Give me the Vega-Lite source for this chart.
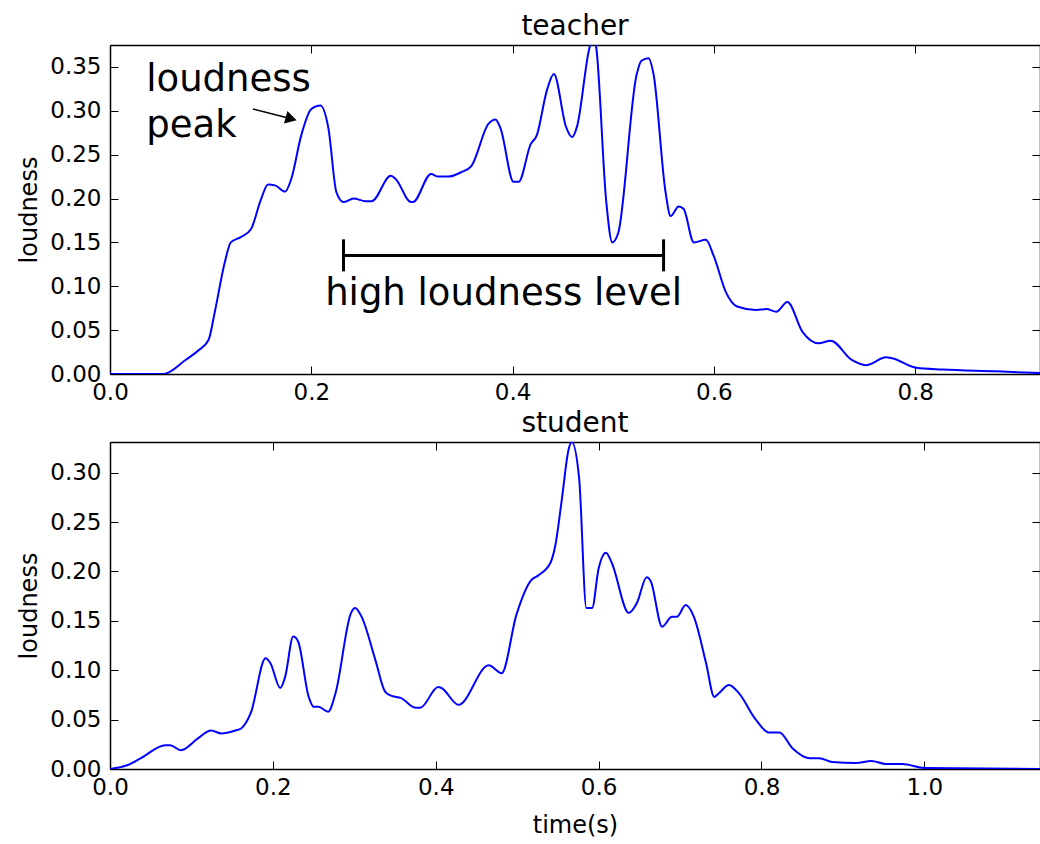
{
  "$schema": "https://vega.github.io/schema/vega-lite/v6.json",
  "autosize": {"type": "pad"},
  "padding": {"left": 17, "top": 13, "right": 0, "bottom": 5},
  "background": "white",
  "config": {
    "font": "DejaVu Sans",
    "view": {"stroke": null},
    "axis": {
      "grid": false,
      "domainColor": "black",
      "domainWidth": 1.5,
      "tickColor": "black",
      "tickWidth": 1,
      "tickSize": -8,
      "labelFlush": false,
      "labelColor": "black",
      "labelFont": "DejaVu Sans",
      "labelFontSize": 23,
      "titleFont": "DejaVu Sans",
      "titleFontSize": 24,
      "titleFontWeight": "normal",
      "titleColor": "black"
    },
    "title": {"font": "DejaVu Sans", "fontSize": 28, "fontWeight": "normal", "color": "black", "offset": -5}
  },
  "datasets": {
    "teacher": [
      {"t": 0.000, "v": 0.000}, {"t": 0.053, "v": 0.000}, {"t": 0.075, "v": 0.016}, {"t": 0.088, "v": 0.027},
      {"t": 0.098, "v": 0.039}, {"t": 0.104, "v": 0.070}, {"t": 0.114, "v": 0.127}, {"t": 0.120, "v": 0.150},
      {"t": 0.130, "v": 0.156}, {"t": 0.140, "v": 0.165}, {"t": 0.150, "v": 0.199}, {"t": 0.157, "v": 0.216},
      {"t": 0.164, "v": 0.215}, {"t": 0.174, "v": 0.208}, {"t": 0.180, "v": 0.222}, {"t": 0.190, "v": 0.272},
      {"t": 0.200, "v": 0.302}, {"t": 0.209, "v": 0.306}, {"t": 0.217, "v": 0.280}, {"t": 0.225, "v": 0.207},
      {"t": 0.232, "v": 0.196}, {"t": 0.242, "v": 0.200}, {"t": 0.254, "v": 0.197}, {"t": 0.260, "v": 0.197},
      {"t": 0.279, "v": 0.226}, {"t": 0.284, "v": 0.222}, {"t": 0.299, "v": 0.196}, {"t": 0.301, "v": 0.196},
      {"t": 0.319, "v": 0.228}, {"t": 0.326, "v": 0.225}, {"t": 0.336, "v": 0.225}, {"t": 0.349, "v": 0.230},
      {"t": 0.359, "v": 0.237}, {"t": 0.376, "v": 0.285}, {"t": 0.383, "v": 0.290}, {"t": 0.388, "v": 0.280},
      {"t": 0.401, "v": 0.219}, {"t": 0.406, "v": 0.219}, {"t": 0.418, "v": 0.262}, {"t": 0.424, "v": 0.272},
      {"t": 0.434, "v": 0.323}, {"t": 0.441, "v": 0.342}, {"t": 0.453, "v": 0.282}, {"t": 0.459, "v": 0.270},
      {"t": 0.464, "v": 0.282}, {"t": 0.476, "v": 0.370}, {"t": 0.480, "v": 0.385}, {"t": 0.483, "v": 0.373},
      {"t": 0.493, "v": 0.197}, {"t": 0.499, "v": 0.150}, {"t": 0.505, "v": 0.161}, {"t": 0.523, "v": 0.340},
      {"t": 0.528, "v": 0.357}, {"t": 0.535, "v": 0.360}, {"t": 0.540, "v": 0.342}, {"t": 0.552, "v": 0.207},
      {"t": 0.557, "v": 0.180}, {"t": 0.565, "v": 0.191}, {"t": 0.570, "v": 0.188}, {"t": 0.580, "v": 0.150},
      {"t": 0.592, "v": 0.153}, {"t": 0.600, "v": 0.134}, {"t": 0.612, "v": 0.093}, {"t": 0.623, "v": 0.077},
      {"t": 0.642, "v": 0.073}, {"t": 0.652, "v": 0.074}, {"t": 0.662, "v": 0.071}, {"t": 0.673, "v": 0.082},
      {"t": 0.688, "v": 0.048}, {"t": 0.704, "v": 0.035}, {"t": 0.716, "v": 0.038}, {"t": 0.737, "v": 0.016},
      {"t": 0.751, "v": 0.010}, {"t": 0.771, "v": 0.019}, {"t": 0.777, "v": 0.018}, {"t": 0.801, "v": 0.007},
      {"t": 0.827, "v": 0.005}, {"t": 0.881, "v": 0.003}, {"t": 0.924, "v": 0.001}
    ],
    "student": [
      {"t": 0.000, "v": 0.000}, {"t": 0.022, "v": 0.004}, {"t": 0.038, "v": 0.011}, {"t": 0.068, "v": 0.024},
      {"t": 0.074, "v": 0.024}, {"t": 0.087, "v": 0.019}, {"t": 0.108, "v": 0.031}, {"t": 0.124, "v": 0.039},
      {"t": 0.137, "v": 0.036}, {"t": 0.154, "v": 0.039}, {"t": 0.161, "v": 0.041}, {"t": 0.173, "v": 0.057},
      {"t": 0.191, "v": 0.112}, {"t": 0.197, "v": 0.107}, {"t": 0.209, "v": 0.082}, {"t": 0.215, "v": 0.093},
      {"t": 0.225, "v": 0.134}, {"t": 0.231, "v": 0.129}, {"t": 0.244, "v": 0.073}, {"t": 0.250, "v": 0.063},
      {"t": 0.256, "v": 0.063}, {"t": 0.268, "v": 0.058}, {"t": 0.277, "v": 0.077}, {"t": 0.296, "v": 0.158},
      {"t": 0.301, "v": 0.163}, {"t": 0.309, "v": 0.154}, {"t": 0.326, "v": 0.110}, {"t": 0.338, "v": 0.078},
      {"t": 0.346, "v": 0.074}, {"t": 0.357, "v": 0.072}, {"t": 0.375, "v": 0.062}, {"t": 0.381, "v": 0.062},
      {"t": 0.403, "v": 0.083}, {"t": 0.407, "v": 0.082}, {"t": 0.428, "v": 0.065}, {"t": 0.465, "v": 0.105},
      {"t": 0.481, "v": 0.097}, {"t": 0.499, "v": 0.156}, {"t": 0.517, "v": 0.191}, {"t": 0.526, "v": 0.196},
      {"t": 0.541, "v": 0.209}, {"t": 0.547, "v": 0.227}, {"t": 0.555, "v": 0.274}, {"t": 0.563, "v": 0.323},
      {"t": 0.567, "v": 0.331}, {"t": 0.576, "v": 0.295}, {"t": 0.585, "v": 0.163}, {"t": 0.592, "v": 0.163},
      {"t": 0.600, "v": 0.203}, {"t": 0.609, "v": 0.219}, {"t": 0.616, "v": 0.209}, {"t": 0.637, "v": 0.158},
      {"t": 0.647, "v": 0.168}, {"t": 0.659, "v": 0.194}, {"t": 0.664, "v": 0.190}, {"t": 0.678, "v": 0.144},
      {"t": 0.690, "v": 0.154}, {"t": 0.696, "v": 0.154}, {"t": 0.707, "v": 0.166}, {"t": 0.717, "v": 0.154},
      {"t": 0.732, "v": 0.107}, {"t": 0.742, "v": 0.073}, {"t": 0.748, "v": 0.077}, {"t": 0.760, "v": 0.085},
      {"t": 0.772, "v": 0.077}, {"t": 0.793, "v": 0.050}, {"t": 0.809, "v": 0.037}, {"t": 0.822, "v": 0.037},
      {"t": 0.838, "v": 0.021}, {"t": 0.859, "v": 0.011}, {"t": 0.871, "v": 0.011}, {"t": 0.887, "v": 0.007},
      {"t": 0.916, "v": 0.006}, {"t": 0.935, "v": 0.008}, {"t": 0.953, "v": 0.005}, {"t": 0.973, "v": 0.005},
      {"t": 1.000, "v": 0.001}, {"t": 1.142, "v": 0.000}
    ],
    "bars": [
      {"x1": 0.232, "x2": 0.550, "y1": 0.135, "y2": 0.135},
      {"x1": 0.232, "x2": 0.232, "y1": 0.117, "y2": 0.1535},
      {"x1": 0.550, "x2": 0.550, "y1": 0.117, "y2": 0.1535}
    ],
    "arrow": [{"x1": 0.142, "y1": 0.302, "x2": 0.180, "y2": 0.291}],
    "arrowhead": [{"x": 0.180, "y": 0.291}],
    "peaklabel": [
      {"x": 0.036, "y": 0.323, "text": "loudness"},
      {"x": 0.036, "y": 0.270, "text": "peak"}
    ],
    "levellabel": [{"x": 0.391, "y": 0.079, "text": "high loudness level"}]
  },
  "bounds": "flush",
  "spacing": 68,
  "vconcat": [
    {
      "width": 930,
      "height": 329,
      "title": {"text": "teacher"},
      "resolve": {"axis": {"x": "independent", "y": "independent"}},
      "layer": [
        {
          "data": {"name": "teacher"},
          "mark": {"type": "line", "color": "#0000ff", "strokeWidth": 2, "clip": true, "interpolate": "monotone"},
          "encoding": {
            "x": {"field": "t", "type": "quantitative", "scale": {"domain": [0, 0.924], "nice": false, "zero": false},
                  "axis": {"title": null, "values": [0, 0.2, 0.4, 0.6, 0.8], "format": ".1f", "labelPadding": 15}},
            "y": {"field": "v", "type": "quantitative", "scale": {"domain": [0, 0.375], "nice": false, "zero": false},
                  "axis": {"title": "loudness", "values": [0, 0.05, 0.1, 0.15, 0.2, 0.25, 0.3, 0.35], "format": ".2f", "labelPadding": 17, "titlePadding": 8}}
          }
        },
        {
          "data": {"name": "teacher"},
          "mark": {"type": "line", "opacity": 0},
          "encoding": {
            "x": {"field": "t", "type": "quantitative", "scale": {"domain": [0, 0.924], "nice": false, "zero": false},
                  "axis": {"orient": "top", "title": null, "labels": false, "values": [0, 0.2, 0.4, 0.6, 0.8]}},
            "y": {"field": "v", "type": "quantitative", "scale": {"domain": [0, 0.375], "nice": false, "zero": false},
                  "axis": {"orient": "right", "title": null, "labels": false, "values": [0, 0.05, 0.1, 0.15, 0.2, 0.25, 0.3, 0.35]}}
          }
        },
        {
          "data": {"name": "bars"},
          "mark": {"type": "rule", "color": "black", "strokeWidth": 3},
          "encoding": {
            "x": {"field": "x1", "type": "quantitative", "scale": {"domain": [0, 0.924], "nice": false, "zero": false}, "axis": null},
            "x2": {"field": "x2"},
            "y": {"field": "y1", "type": "quantitative", "scale": {"domain": [0, 0.375], "nice": false, "zero": false}, "axis": null},
            "y2": {"field": "y2"}
          }
        },
        {
          "data": {"name": "arrow"},
          "mark": {"type": "rule", "color": "black", "strokeWidth": 1.5},
          "encoding": {
            "x": {"field": "x1", "type": "quantitative", "scale": {"domain": [0, 0.924], "nice": false, "zero": false}, "axis": null},
            "x2": {"field": "x2"},
            "y": {"field": "y1", "type": "quantitative", "scale": {"domain": [0, 0.375], "nice": false, "zero": false}, "axis": null},
            "y2": {"field": "y2"}
          }
        },
        {
          "data": {"name": "arrowhead"},
          "mark": {"type": "point", "shape": "triangle-right", "filled": true, "color": "black", "size": 170, "angle": 15, "opacity": 1},
          "encoding": {
            "x": {"field": "x", "type": "quantitative", "scale": {"domain": [0, 0.924], "nice": false, "zero": false}, "axis": null},
            "y": {"field": "y", "type": "quantitative", "scale": {"domain": [0, 0.375], "nice": false, "zero": false}, "axis": null}
          }
        },
        {
          "data": {"name": "peaklabel"},
          "mark": {"type": "text", "align": "left", "baseline": "alphabetic", "fontSize": 37, "color": "black", "font": "DejaVu Sans"},
          "encoding": {
            "x": {"field": "x", "type": "quantitative", "scale": {"domain": [0, 0.924], "nice": false, "zero": false}, "axis": null},
            "y": {"field": "y", "type": "quantitative", "scale": {"domain": [0, 0.375], "nice": false, "zero": false}, "axis": null},
            "text": {"field": "text"}
          }
        },
        {
          "data": {"name": "levellabel"},
          "mark": {"type": "text", "align": "center", "baseline": "alphabetic", "fontSize": 37, "color": "black", "font": "DejaVu Sans"},
          "encoding": {
            "x": {"field": "x", "type": "quantitative", "scale": {"domain": [0, 0.924], "nice": false, "zero": false}, "axis": null},
            "y": {"field": "y", "type": "quantitative", "scale": {"domain": [0, 0.375], "nice": false, "zero": false}, "axis": null},
            "text": {"field": "text"}
          }
        }
      ]
    },
    {
      "width": 930,
      "height": 327,
      "title": {"text": "student", "offset": 4},
      "resolve": {"axis": {"x": "independent", "y": "independent"}},
      "layer": [
        {
          "data": {"name": "student"},
          "mark": {"type": "line", "color": "#0000ff", "strokeWidth": 2, "clip": true, "interpolate": "monotone"},
          "encoding": {
            "x": {"field": "t", "type": "quantitative", "scale": {"domain": [0, 1.142], "nice": false, "zero": false},
                  "axis": {"title": "time(s)", "values": [0, 0.2, 0.4, 0.6, 0.8, 1.0], "format": ".1f", "labelPadding": 15, "titlePadding": 14}},
            "y": {"field": "v", "type": "quantitative", "scale": {"domain": [0, 0.331], "nice": false, "zero": false},
                  "axis": {"title": "loudness", "values": [0, 0.05, 0.1, 0.15, 0.2, 0.25, 0.3], "format": ".2f", "labelPadding": 17, "titlePadding": 8}}
          }
        },
        {
          "data": {"name": "student"},
          "mark": {"type": "line", "opacity": 0},
          "encoding": {
            "x": {"field": "t", "type": "quantitative", "scale": {"domain": [0, 1.142], "nice": false, "zero": false},
                  "axis": {"orient": "top", "title": null, "labels": false, "values": [0, 0.2, 0.4, 0.6, 0.8, 1.0]}},
            "y": {"field": "v", "type": "quantitative", "scale": {"domain": [0, 0.331], "nice": false, "zero": false},
                  "axis": {"orient": "right", "title": null, "labels": false, "values": [0, 0.05, 0.1, 0.15, 0.2, 0.25, 0.3]}}
          }
        }
      ]
    }
  ]
}
